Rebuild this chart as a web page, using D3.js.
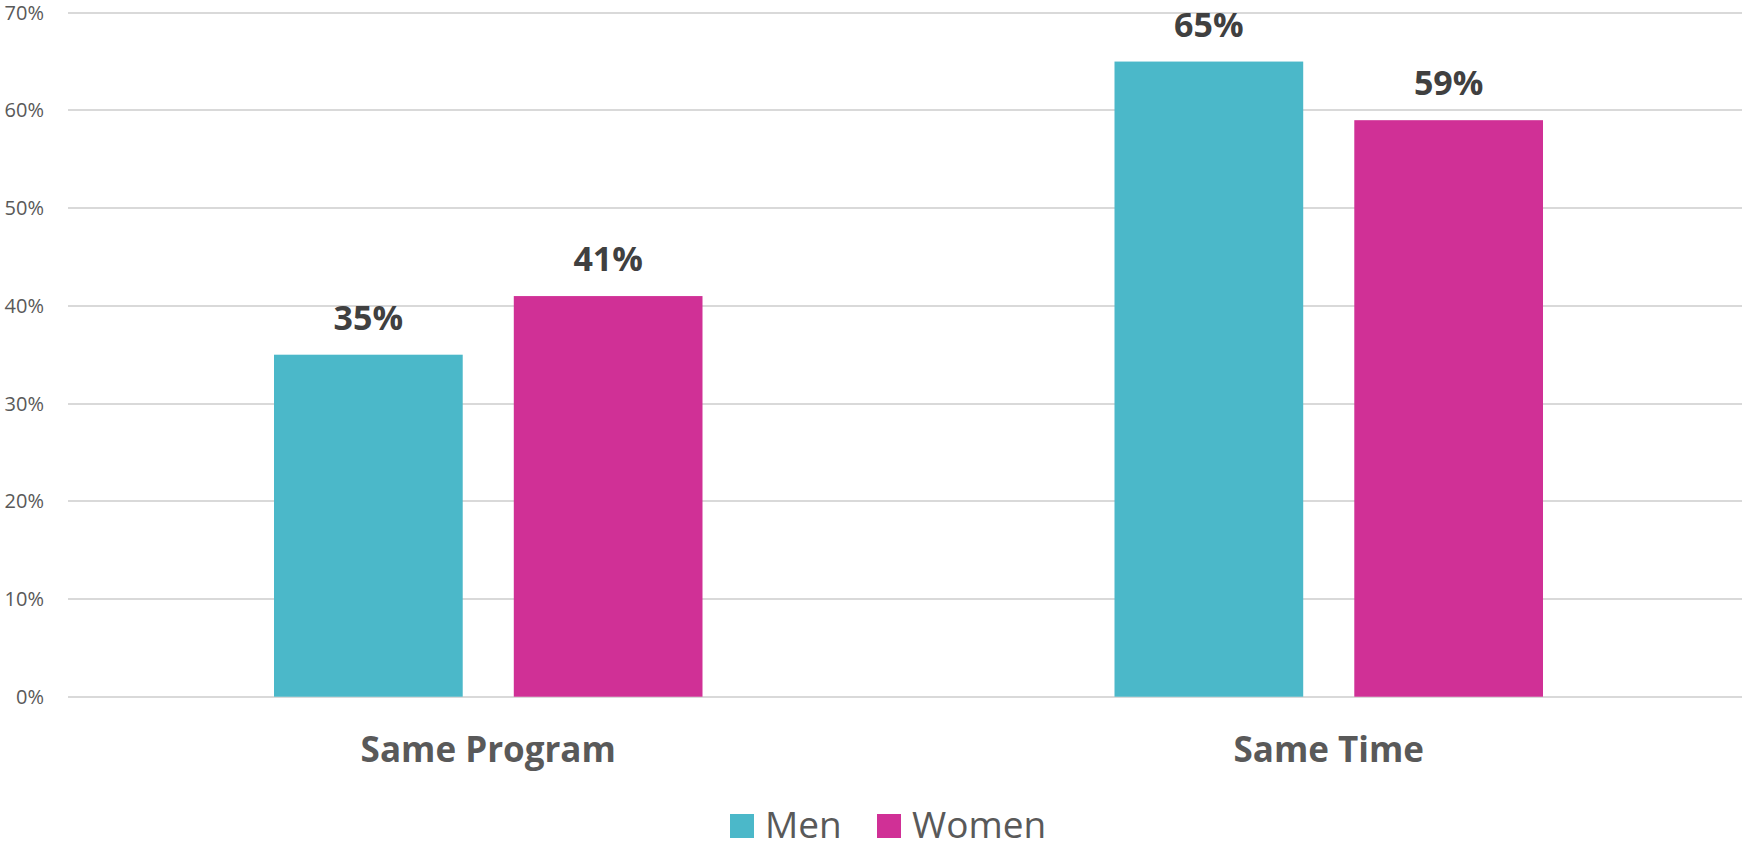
<!DOCTYPE html>
<head>
  <meta charset="utf-8" />
  <script src="https://d3js.org/d3.v7.min.js"></script>
  <style>
    body { margin: 0; background: #fff; }
    svg { display: block; font-family: "Open Sans", sans-serif; }
  </style>
</head>
<body>
  <svg width="1742" height="843"></svg>
  <script>
    // chart data
    var categories = ["Same Program", "Same Time"];
    var seriesNames = ["Men", "Women"];
    var menValues = [35, 65];
    var womenValues = [41, 59];
    var yTicks = [0, 10, 20, 30, 40, 50, 60, 70];
    var colors = ["#4bb8c9", "#d03096"];

    var svg = d3.select("svg");
    var plotLeft = 68, plotRight = 1749, plotTop = 12.7, plotBottom = 696.7;

    var x0 = d3.scaleBand().domain(categories).range([plotLeft, plotRight]);
    var x1 = d3.scaleBand().domain(seriesNames).range([206, x0.bandwidth() - 206]).paddingInner(0.213);
    var y = d3.scaleLinear().domain([0, 70]).range([plotBottom, plotTop]);

    // gridlines
    svg.append("g")
      .selectAll("line")
      .data(yTicks)
      .enter()
      .append("line")
      .attr("x1", plotLeft)
      .attr("x2", 1742)
      .attr("y1", function (d) { return Math.round(y(d)); })
      .attr("y2", function (d) { return Math.round(y(d)); })
      .attr("stroke", "#d9d9d9")
      .attr("stroke-width", 2);

    // y tick labels
    svg.append("g")
      .selectAll("text")
      .data(yTicks)
      .enter()
      .append("text")
      .attr("x", 44)
      .attr("y", function (d) { return y(d) + 7; })
      .attr("text-anchor", "end")
      .attr("font-size", 20)
      .attr("fill", "#595959")
      .text(function (d) { return d + "%"; });

    var rows = categories.map(function (c, i) {
      return { cat: c, vals: [menValues[i], womenValues[i]] };
    });

    var groups = svg.append("g")
      .selectAll("g")
      .data(rows)
      .enter()
      .append("g")
      .attr("transform", function (d) { return "translate(" + x0(d.cat) + ",0)"; });

    groups.selectAll("rect")
      .data(function (d) {
        return d.vals.map(function (v, j) { return { s: seriesNames[j], v: v, c: colors[j] }; });
      })
      .enter()
      .append("rect")
      .attr("x", function (d) { return x1(d.s); })
      .attr("width", x1.bandwidth())
      .attr("y", function (d) { return y(d.v); })
      .attr("height", function (d) { return y(0) - y(d.v); })
      .attr("fill", function (d) { return d.c; });

    groups.selectAll("text.val")
      .data(function (d) {
        return d.vals.map(function (v, j) { return { s: seriesNames[j], v: v }; });
      })
      .enter()
      .append("text")
      .attr("class", "val")
      .attr("x", function (d) { return x1(d.s) + x1.bandwidth() / 2; })
      .attr("y", function (d) { return y(d.v) - 25; })
      .attr("text-anchor", "middle")
      .attr("font-size", 34)
      .attr("font-weight", "bold")
      .attr("fill", "#404040")
      .text(function (d) { return d.v + "%"; });

    // category labels
    svg.append("g")
      .selectAll("text")
      .data(categories)
      .enter()
      .append("text")
      .attr("x", function (d) { return x0(d) + x0.bandwidth() / 2; })
      .attr("y", 762)
      .attr("text-anchor", "middle")
      .attr("font-size", 35)
      .attr("font-weight", "bold")
      .attr("fill", "#595959")
      .text(function (d) { return d; });

    // legend
    var legendX = [730, 877];
    var legend = svg.append("g")
      .selectAll("g")
      .data(seriesNames)
      .enter()
      .append("g")
      .attr("transform", function (d, i) { return "translate(" + legendX[i] + ",814)"; });
    legend.append("rect")
      .attr("width", 24)
      .attr("height", 24)
      .attr("fill", function (d, i) { return colors[i]; });
    legend.append("text")
      .attr("x", 35)
      .attr("y", 24)
      .attr("font-size", 37)
      .attr("fill", "#595959")
      .text(function (d) { return d; });
  </script>
</body>
